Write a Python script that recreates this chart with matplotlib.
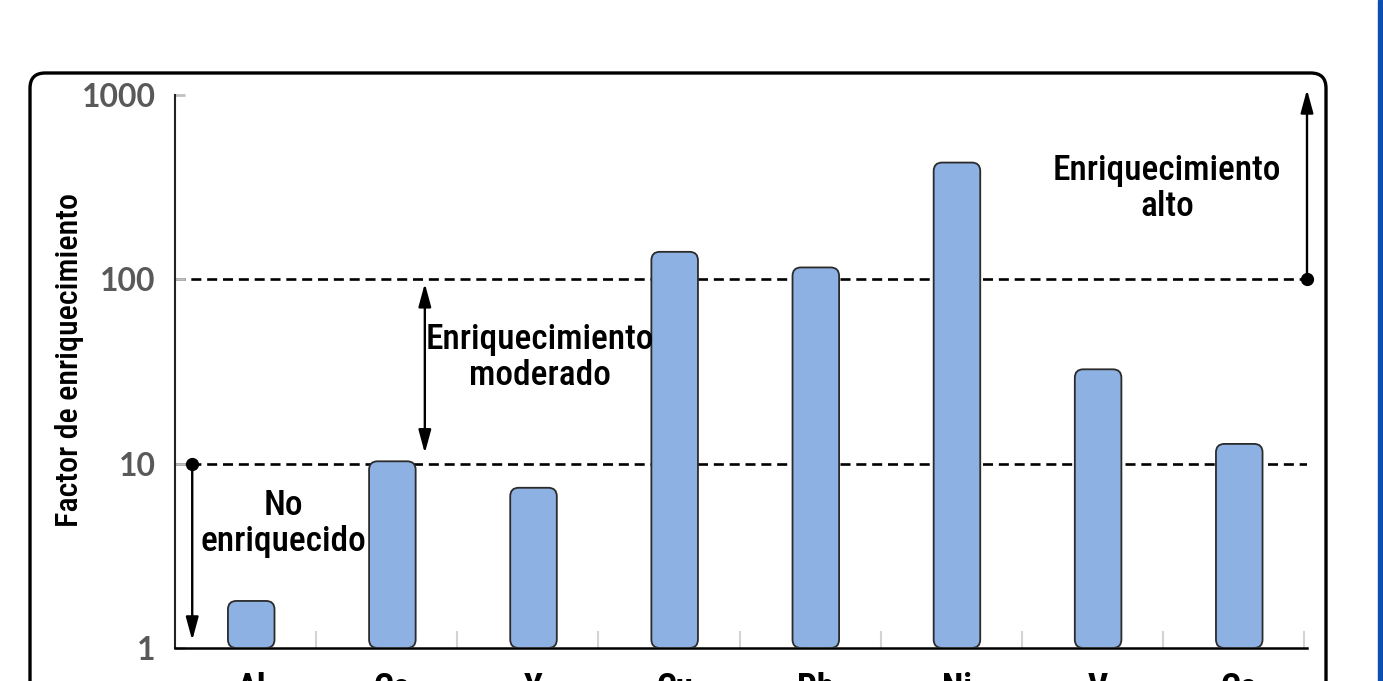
import numpy as np
import matplotlib.pyplot as plt
from matplotlib.patches import FancyBboxPatch, Rectangle
from matplotlib.ticker import NullLocator, FixedLocator
from matplotlib import font_manager
from matplotlib.font_manager import FontProperties

# Datos (factor de enriquecimiento por elemento)
elementos = ['Al', 'Co', 'Y', 'Cu', 'Pb', 'Ni', 'V', 'Co']
factor_ef = [1.8, 10.3, 7.4, 141, 116, 430, 32.5, 12.8]
umbrales = [10, 100]
ticks_y = [1, 10, 100, 1000]
etiquetas_y = ['1', '10', '100', '1000']


# buscar una fuente condensada instalada
def _peso(f):
    w = f.weight
    if isinstance(w, str):
        w = font_manager.weight_dict.get(w, 400)
    return w


def _prioridad(f):
    n = f.name.lower()
    if 'roboto' in n:
        return 0
    if 'noto sans' in n and 'cjk' not in n and 'mono' not in n:
        return 1
    if 'open sans' in n:
        return 2
    if 'liberation' in n:
        return 3
    if 'dejavu sans' in n and 'mono' not in n:
        return 9
    return 20


cands = [f for f in font_manager.fontManager.ttflist
         if ('condensed' in f.name.lower() or 'narrow' in f.name.lower()
             or str(f.stretch) in ('condensed', 'semi-condensed'))
         and f.style == 'normal' and _prioridad(f) < 20]


def fp(size, peso=500):
    if cands:
        mejor = min(cands, key=lambda f: (_prioridad(f), abs(_peso(f) - peso)))
        return FontProperties(fname=mejor.fname, size=size)
    return FontProperties(family='DejaVu Sans', stretch='condensed',
                          weight='bold', size=size)


W, H = 1383, 681
fig = plt.figure(figsize=(W / 100, H / 100), dpi=100)
ax = fig.add_axes([175 / W, 33 / H, 1132 / W, 553 / H])
ax.set_yscale('log')
ax.set_ylim(1, 1000)
ax.set_xlim(-0.54, 7.48)

for s in ['top', 'right']:
    ax.spines[s].set_visible(False)
ax.spines['left'].set_color('#222222')
ax.spines['left'].set_linewidth(1.5)
ax.spines['bottom'].set_color('black')
ax.spines['bottom'].set_linewidth(1.8)

# eje y
ax.yaxis.set_minor_locator(NullLocator())
ax.set_yticks(ticks_y, labels=etiquetas_y, fontsize=23, fontweight='bold',
              color='#595959', family='Lato')
ax.tick_params(axis='y', direction='in', length=7, width=2, color='#c0c0c0', pad=14)
ax.set_ylabel('Factor de enriquecimiento', fontproperties=fp(23, 500), va='center')
ax.yaxis.set_label_coords(-0.093, 0.52)

# eje x
ax.set_xticks(range(len(elementos)), labels=elementos)
for lbl in ax.get_xticklabels():
    lbl.set_fontproperties(fp(25, 700))
ax.tick_params(axis='x', which='major', length=0, pad=17)
ax.xaxis.set_minor_locator(FixedLocator([i + 0.46 for i in range(len(elementos))]))
ax.tick_params(axis='x', which='minor', direction='in', length=12, width=1.5,
               color='#d3d3d3')

# lineas de umbral
for u in umbrales:
    ax.axhline(u, color='black', lw=1.9, dashes=(3.8, 2.2), zorder=1)

# barras redondeadas
to_axes = ax.transData + ax.transAxes.inverted()
ancho = 0.33
for i, v in enumerate(factor_ef):
    x0, y0 = to_axes.transform((i - ancho / 2, 1))
    x1, y1 = to_axes.transform((i + ancho / 2, v))
    ax.add_patch(FancyBboxPatch((x0, y0), x1 - x0, y1 - y0,
                                boxstyle='round,pad=0,rounding_size=0.0075',
                                mutation_aspect=1132 / 553, transform=ax.transAxes,
                                fc='#8db1e2', ec='#2b2b2b', lw=1.3, zorder=3))

# flechas y puntos
flecha = dict(arrowstyle='-|>,head_length=1.4,head_width=0.38', lw=1.7,
              color='black', shrinkA=0, shrinkB=0)
ax.plot([7.48], [100], 'o', color='black', ms=8.5, clip_on=False, zorder=5)
ax.annotate('', xy=(7.48, 1070), xytext=(7.48, 100), arrowprops=flecha,
            annotation_clip=False)
ax.plot([-0.418], [10], 'o', color='black', ms=8.5, clip_on=False, zorder=5)
ax.annotate('', xy=(-0.418, 1.1), xytext=(-0.418, 10), arrowprops=flecha,
            annotation_clip=False)
doble = dict(flecha, arrowstyle='<|-|>,head_length=1.4,head_width=0.38')
ax.annotate('', xy=(1.23, 95), xytext=(1.23, 11.4), arrowprops=doble)

# textos
ax.text(2.045, 37.8, 'Enriquecimiento\nmoderado', ha='center', va='center',
        fontproperties=fp(25.5), linespacing=1.12)
ax.text(6.49, 311, 'Enriquecimiento\nalto', ha='center', va='center',
        fontproperties=fp(25.5), linespacing=1.12)
ax.text(0.226, 4.76, 'No\nenriquecido', ha='center', va='center',
        fontproperties=fp(25.5), linespacing=1.12)

# marco redondeado y banda azul
marco = FancyBboxPatch((30 / W, -0.2), 1296 / W, 0.2 + (H - 73) / H,
                       boxstyle='round,pad=0,rounding_size=0.011',
                       mutation_aspect=W / H, transform=fig.transFigure,
                       fill=False, ec='black', lw=2.4)
fig.add_artist(marco)
fig.add_artist(Rectangle((1378 / W, 0), 5 / W, 1, transform=fig.transFigure,
                         color='#0b4fb1'))

fig.savefig('out.png', dpi=100)
